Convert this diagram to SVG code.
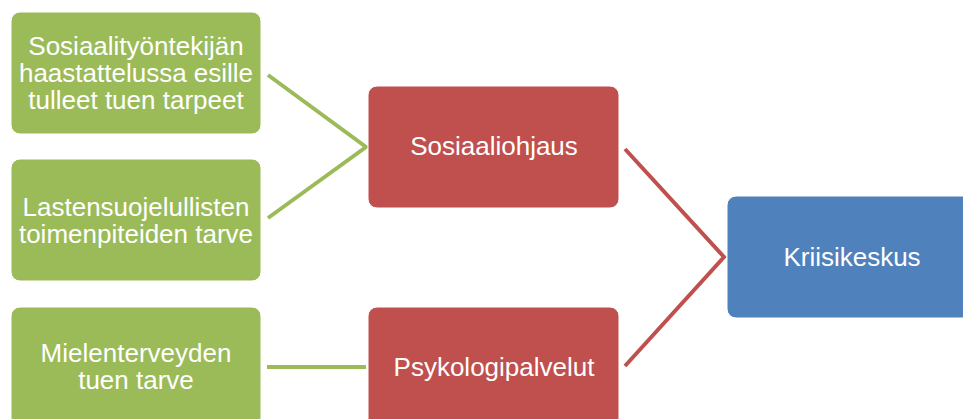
<svg xmlns="http://www.w3.org/2000/svg" width="963" height="419" viewBox="0 0 963 419">
  <style>
    .box { stroke: #ffffff; stroke-width: 1; }
    .green { fill: #9BBB59; }
    .red { fill: #C0504D; }
    .blue { fill: #4F81BD; }
    .lbl { font-family: "Liberation Sans", Arial, sans-serif; font-size: 26px; fill: #ffffff; text-anchor: middle; }
    .cg { fill: none; stroke: #9BBB59; stroke-width: 4; }
    .cr { fill: none; stroke: #C0504D; stroke-width: 4; }
  </style>
  <rect width="963" height="419" fill="#ffffff"/>

  <g id="connectors">
    <polyline class="cg" points="268,75 366,147 268,218"/>
    <line class="cg" x1="267" y1="367" x2="366" y2="367"/>
    <polyline class="cr" points="625,149 724,257 625,366"/>
  </g>

  <g id="need-interview">
    <rect class="box green" x="11" y="12" width="250" height="122" rx="9"/>
    <text class="lbl" x="136" y="55">Sosiaalityöntekijän</text>
    <text class="lbl" x="136" y="82">haastattelussa esille</text>
    <text class="lbl" x="136" y="109">tulleet tuen tarpeet</text>
  </g>

  <g id="need-childprotection">
    <rect class="box green" x="11" y="159" width="250" height="122" rx="9"/>
    <text class="lbl" x="136" y="216">Lastensuojelullisten</text>
    <text class="lbl" x="136" y="243">toimenpiteiden tarve</text>
  </g>

  <g id="need-mentalhealth">
    <rect class="box green" x="11" y="307" width="250" height="122" rx="9"/>
    <text class="lbl" x="136" y="362">Mielenterveyden</text>
    <text class="lbl" x="136" y="389">tuen tarve</text>
  </g>

  <g id="social-guidance">
    <rect class="box red" x="368" y="86" width="251" height="122" rx="9"/>
    <text class="lbl" x="494" y="155">Sosiaaliohjaus</text>
  </g>

  <g id="psychology-services">
    <rect class="box red" x="368" y="307" width="251" height="122" rx="9"/>
    <text class="lbl" x="494" y="376">Psykologipalvelut</text>
  </g>

  <g id="crisis-centre">
    <rect class="box blue" x="727" y="196" width="251" height="122" rx="9"/>
    <text class="lbl" x="852" y="266">Kriisikeskus</text>
  </g>
</svg>
